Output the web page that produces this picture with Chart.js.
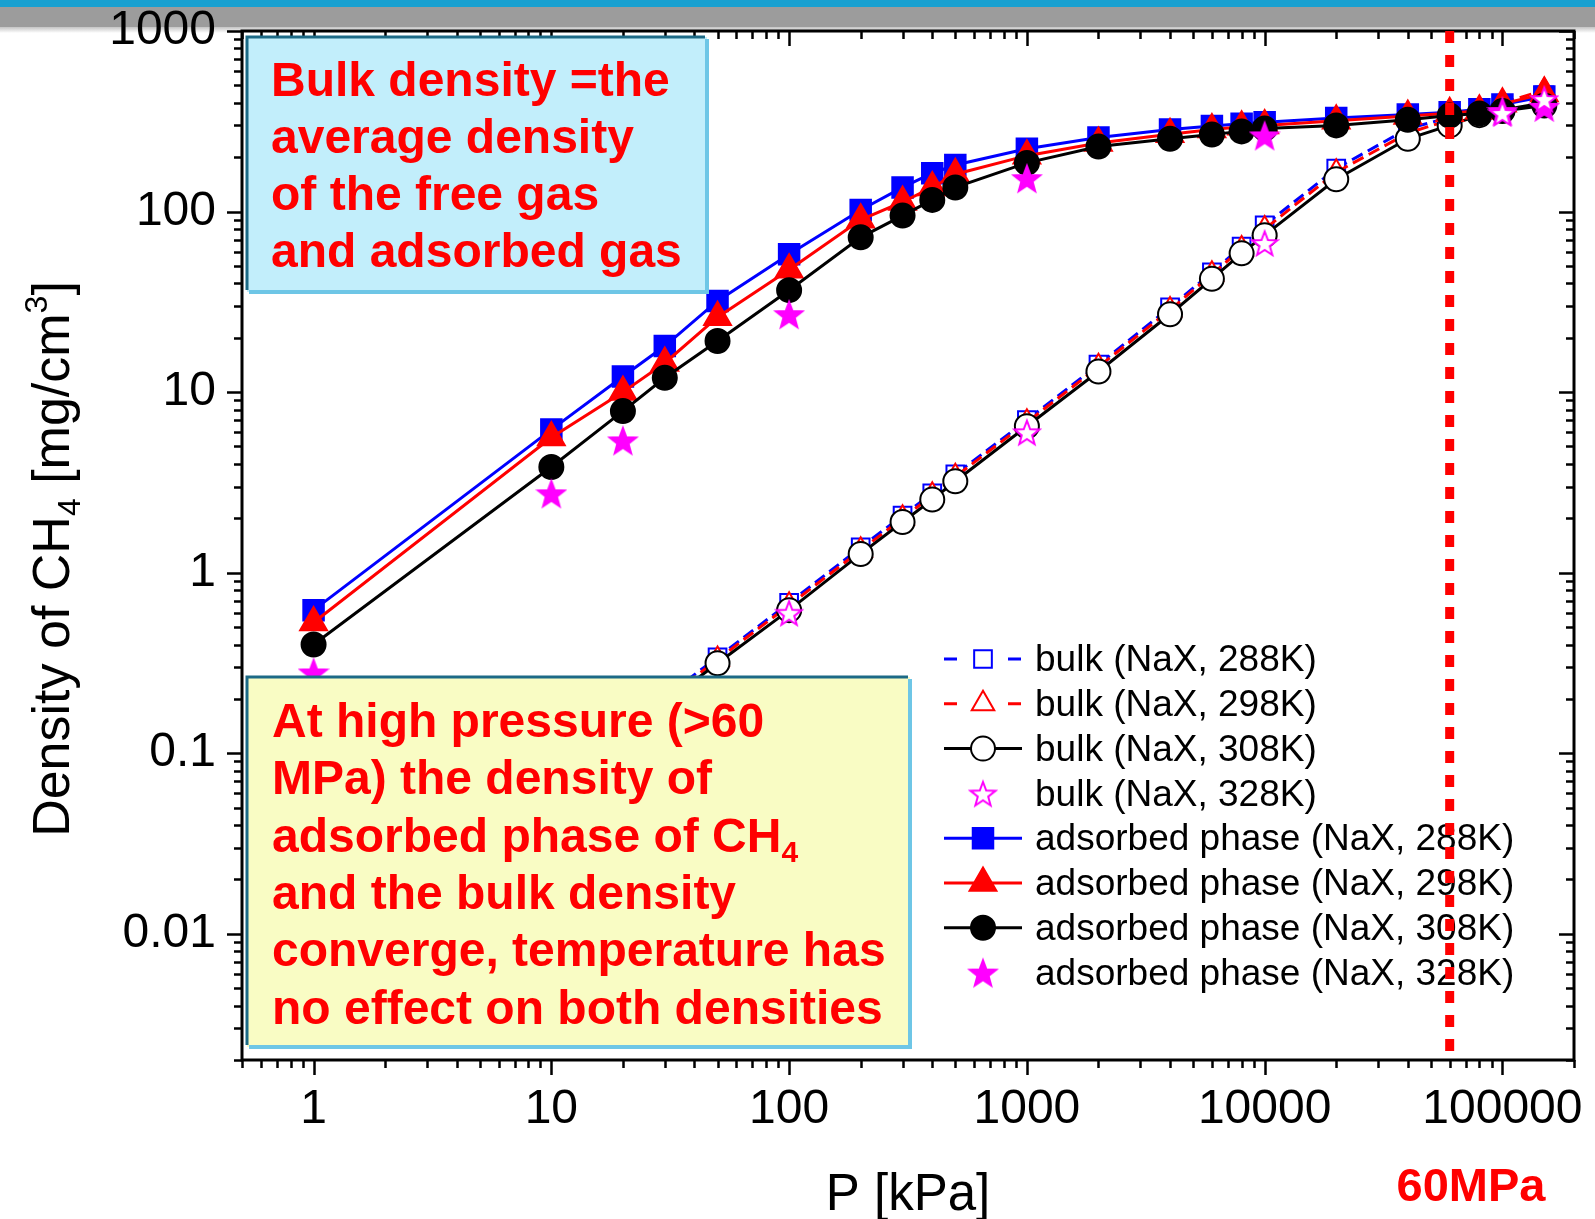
<!DOCTYPE html>
<html>
<head>
<meta charset="utf-8">
<script src="https://cdn.jsdelivr.net/npm/chart.js@4.4.1/dist/chart.umd.min.js"></script>
<style>
  html, body { margin: 0; padding: 0; background: #fff; }
  canvas { display: block; }
</style>
</head>
<body>
<canvas id="densityChart" width="1595" height="1219"></canvas>
<script>
// pressure points in kPa
const pressure = [1, 10, 20, 30, 50, 100, 200, 300, 400, 500, 1000, 2000, 4000, 6000, 8000, 10000, 20000, 40000, 60000, 80000, 100000, 150000];
const pressureAds328 = [1, 10, 20, 100, 1000, 10000, 100000, 150000];
const pressureBulk328 = [100, 1000, 10000, 100000, 150000];

// bulk density, mg/cm3
const bulk288 = [0.0068, 0.068, 0.136, 0.205, 0.34, 0.68, 1.38, 2.07, 2.75, 3.5, 7.0, 14.2, 29.5, 46, 64, 84, 173, 288, 332, 365, 395, 440];
const bulk298 = [0.0066, 0.066, 0.132, 0.198, 0.33, 0.66, 1.33, 2.0, 2.68, 3.4, 6.8, 13.8, 28.5, 45, 62, 80, 165, 272, 322, 360, 400, 470];
const bulk308 = [0.0063, 0.063, 0.126, 0.19, 0.315, 0.62, 1.27, 1.91, 2.54, 3.21, 6.47, 13, 27, 42.4, 58.7, 74, 151, 253, 300, 342, 365, 400];
const bulk328 = [0.6, 6.0, 67, 352, 420];

// adsorbed phase density, mg/cm3
const ads288 = [0.62, 6.2, 12.2, 18, 32, 58, 102, 136, 163, 181, 223, 257, 285, 298, 306, 312, 330, 345, 355, 369, 392, 434];
const ads298 = [0.53, 5.6, 10, 14.5, 26, 47.6, 90, 113, 136, 161, 204, 240, 268, 285, 295, 300, 318, 338, 350, 362, 395, 450];
const ads308 = [0.40, 3.85, 7.85, 12, 19.2, 36.7, 72, 95, 116, 136, 186, 229, 253, 267, 278, 288, 300, 322, 340, 349, 360, 387];
const ads328 = [0.28, 2.75, 5.4, 27, 153, 264, 360, 380];

const xTickValues = [1, 10, 100, 1000, 10000, 100000];
const xTickLabels = ['1', '10', '100', '1000', '10000', '100000'];
const yTickValues = [0.01, 0.1, 1, 10, 100, 1000];
const yTickLabels = ['0.01', '0.1', '1', '10', '100', '1000'];
const limitPressure = 60000;

const FONT = "'Liberation Sans', Arial, sans-serif";

function pts(xs, ys) {
    return xs.map((x, i) => ({ x: x, y: ys[i] }));
}

function makeStar(filled, size) {
    let c = document.createElement('canvas');
    c.width = size; c.height = size;
    let ctx = c.getContext('2d');
    let cx = size / 2, cy = size / 2 + 1.5, R = size / 2 - 2, r = R * 0.42;
    ctx.beginPath();
    for (let i = 0; i < 10; i++) {
        let rad = i % 2 ? r : R;
        let a = -Math.PI / 2 + i * Math.PI / 5;
        ctx.lineTo(cx + rad * Math.cos(a), cy + rad * Math.sin(a));
    }
    ctx.closePath();
    ctx.fillStyle = filled ? '#ff00ff' : '#ffffff';
    ctx.fill();
    ctx.lineWidth = 2;
    ctx.strokeStyle = '#ff00ff';
    ctx.stroke();
    return c;
}

const starFilled = makeStar(true, 32);
const starOpen = makeStar(false, 30);

function series(label, xs, ys, color, style, radius, filled, dash, line, order) {
    return {
        label: label,
        data: pts(xs, ys),
        showLine: line,
        borderColor: color,
        borderWidth: 3,
        borderDash: dash,
        pointStyle: style,
        pointRadius: radius,
        pointHoverRadius: radius,
        pointBorderWidth: 2,
        pointBorderColor: color,
        pointBackgroundColor: filled ? color : '#ffffff',
        order: order,
        dashed: dash.length > 0
    };
}

const datasets = [
    series('bulk (NaX, 288K)', pressure, bulk288, '#0000ff', 'rect', 12.5, false, [12, 6], true, 7),
    series('bulk (NaX, 298K)', pressure, bulk298, '#ff0000', 'triangle', 13, false, [12, 6], true, 6),
    series('bulk (NaX, 308K)', pressure, bulk308, '#000000', 'circle', 12, false, [], true, 5),
    series('bulk (NaX, 328K)', pressureBulk328, bulk328, '#ff00ff', starOpen, 14, false, [], false, 0),
    series('adsorbed phase (NaX, 288K)', pressure, ads288, '#0000ff', 'rect', 14.5, true, [], true, 4),
    series('adsorbed phase (NaX, 298K)', pressure, ads298, '#ff0000', 'triangle', 15.5, true, [], true, 3),
    series('adsorbed phase (NaX, 308K)', pressure, ads308, '#000000', 'circle', 12, true, [], true, 2),
    series('adsorbed phase (NaX, 328K)', pressureAds328, ads328, '#ff00ff', starFilled, 15, true, [], false, 1)
];

function drawMarker(ctx, ds, x, y) {
    let r = ds.pointRadius;
    ctx.save();
    ctx.lineWidth = ds.pointBorderWidth;
    ctx.strokeStyle = ds.pointBorderColor;
    ctx.fillStyle = ds.pointBackgroundColor;
    ctx.setLineDash([]);
    if (ds.pointStyle instanceof HTMLCanvasElement) {
        ctx.drawImage(ds.pointStyle, x - ds.pointStyle.width / 2, y - ds.pointStyle.height / 2);
        ctx.restore();
        return;
    }
    ctx.beginPath();
    if (ds.pointStyle === 'rect') {
        let s = r * Math.SQRT1_2;
        ctx.rect(x - s, y - s, 2 * s, 2 * s);
    } else if (ds.pointStyle === 'triangle') {
        let a = 0;
        ctx.moveTo(x + Math.sin(a) * r, y - Math.cos(a) * r);
        a += 2 * Math.PI / 3;
        ctx.lineTo(x + Math.sin(a) * r, y - Math.cos(a) * r);
        a += 2 * Math.PI / 3;
        ctx.lineTo(x + Math.sin(a) * r, y - Math.cos(a) * r);
        ctx.closePath();
    } else {
        ctx.arc(x, y, r, 0, Math.PI * 2);
    }
    ctx.fill();
    ctx.stroke();
    ctx.restore();
}

// text with a sub- or superscript piece: parts = [[text, 'n'|'sub'|'sup'], ...]
function richText(ctx, parts, x, y, size, weight) {
    let cx = x;
    parts.forEach(p => {
        let small = p[1] !== 'n';
        ctx.font = weight + ' ' + (small ? Math.round(size * 0.62) : size) + 'px ' + FONT;
        let dy = p[1] === 'sub' ? size * 0.22 : (p[1] === 'sup' ? -size * 0.42 : 0);
        ctx.fillText(p[0], cx, y + dy);
        cx += ctx.measureText(p[0]).width;
    });
    return cx - x;
}

function richWidth(ctx, parts, size, weight) {
    let w = 0;
    parts.forEach(p => {
        let small = p[1] !== 'n';
        ctx.font = weight + ' ' + (small ? Math.round(size * 0.62) : size) + 'px ' + FONT;
        w += ctx.measureText(p[0]).width;
    });
    return w;
}

function noteBox(ctx, x1, y1, x2, y2, fill) {
    ctx.save();
    ctx.fillStyle = fill;
    ctx.fillRect(x1, y1, x2 - x1, y2 - y1);
    ctx.strokeStyle = '#6ec6e6';
    ctx.lineWidth = 4;
    ctx.beginPath();
    ctx.moveTo(x2, y1 + 2);
    ctx.lineTo(x2, y2);
    ctx.lineTo(x1 + 2, y2);
    ctx.stroke();
    ctx.strokeStyle = '#1c6a86';
    ctx.lineWidth = 3;
    ctx.beginPath();
    ctx.moveTo(x1, y2 - 2);
    ctx.lineTo(x1, y1);
    ctx.lineTo(x2 - 2, y1);
    ctx.stroke();
    ctx.restore();
}

function logMarks(min, max) {
    let out = [];
    for (let e = Math.floor(Math.log10(min)); e <= Math.ceil(Math.log10(max)); e++) {
        for (let m = 1; m < 10; m++) {
            let v = m * Math.pow(10, e);
            if (v >= min * 0.999 && v <= max * 1.001) out.push({ v: v, major: m === 1 });
        }
    }
    return out;
}

function noScalePadding(s) {
    s.paddingLeft = 0; s.paddingRight = 0; s.paddingTop = 0; s.paddingBottom = 0;
}

const decorPlugin = {
    id: 'decor',
    beforeDraw(chart) {
        let ctx = chart.ctx;
        ctx.save();
        ctx.fillStyle = '#ffffff';
        ctx.fillRect(0, 0, chart.width, chart.height);
        ctx.fillStyle = '#18a0d0';
        ctx.fillRect(0, 0, chart.width, 7);
        ctx.fillStyle = '#9c9c9c';
        ctx.fillRect(0, 7, chart.width, 20);
        let g = ctx.createLinearGradient(0, 27, 0, 33);
        g.addColorStop(0, '#c4c4c4');
        g.addColorStop(1, '#ffffff');
        ctx.fillStyle = g;
        ctx.fillRect(0, 27, chart.width, 6);
        ctx.restore();
    },
    afterDatasetsDraw(chart) {
        let ctx = chart.ctx;
        let a = chart.chartArea;
        let xs = chart.scales.x, ys = chart.scales.y;
        ctx.save();

        // frame and tick marks
        ctx.strokeStyle = '#000';
        ctx.lineWidth = 3;
        ctx.strokeRect(a.left, a.top, a.right - a.left, a.bottom - a.top);
        ctx.lineWidth = 2.5;
        ctx.beginPath();
        logMarks(xs.min, xs.max).forEach(t => {
            let px = Math.round(xs.getPixelForValue(t.v)) + 0.5;
            let len = t.major ? 15 : 8;
            ctx.moveTo(px, a.bottom); ctx.lineTo(px, a.bottom + len);
            ctx.moveTo(px, a.top); ctx.lineTo(px, a.top + len);
        });
        logMarks(ys.min, ys.max).forEach(t => {
            let py = Math.round(ys.getPixelForValue(t.v)) + 0.5;
            let len = t.major ? 15 : 8;
            ctx.moveTo(a.left, py); ctx.lineTo(a.left - len, py);
            ctx.moveTo(a.right, py); ctx.lineTo(a.right - len, py);
        });
        ctx.stroke();

        // note boxes
        noteBox(ctx, 247, 37, 707, 292, '#c2eefb');
        noteBox(ctx, 247, 677, 910, 1047, '#f9fcc4');
        ctx.fillStyle = '#ff0000';
        ctx.textBaseline = 'alphabetic';
        ctx.textAlign = 'left';
        ctx.font = 'bold 48px ' + FONT;
        ['Bulk density =the', 'average density', 'of the free gas', 'and adsorbed gas'].forEach((s, i) => {
            ctx.fillText(s, 271, 96 + i * 57);
        });
        let note2 = [
            [['At high pressure (>60', 'n']],
            [['MPa) the density of', 'n']],
            [['adsorbed phase of CH', 'n'], ['4', 'sub']],
            [['and the bulk density', 'n']],
            [['converge, temperature has', 'n']],
            [['no effect on both densities', 'n']]
        ];
        note2.forEach((parts, i) => {
            richText(ctx, parts, 272, 737 + i * 57.3, 48, 'bold');
        });

        // legend
        let order = [0, 1, 2, 3, 4, 5, 6, 7];
        order.forEach((di, row) => {
            let ds = chart.data.datasets[di];
            let y = 659 + row * 44.8;
            ctx.lineWidth = 3;
            ctx.strokeStyle = ds.borderColor;
            ctx.setLineDash([]);
            if (ds.showLine) {
                ctx.beginPath();
                if (ds.dashed) {
                    ctx.moveTo(944, y); ctx.lineTo(957, y);
                    ctx.moveTo(1008, y); ctx.lineTo(1021, y);
                } else {
                    ctx.moveTo(944, y); ctx.lineTo(1022, y);
                }
                ctx.stroke();
            }
            drawMarker(ctx, ds, 983, y);
            ctx.fillStyle = '#000';
            ctx.font = '37px ' + FONT;
            ctx.textBaseline = 'middle';
            ctx.fillText(ds.label, 1035, y + 2);
        });

        // 60 MPa marker line
        let lx = xs.getPixelForValue(limitPressure);
        ctx.strokeStyle = '#ff0000';
        ctx.lineWidth = 9;
        ctx.setLineDash([12, 12]);
        ctx.beginPath();
        ctx.moveTo(lx, a.top);
        ctx.lineTo(lx, a.bottom);
        ctx.stroke();
        ctx.setLineDash([]);

        // axis titles
        ctx.fillStyle = '#000';
        ctx.textBaseline = 'alphabetic';
        ctx.textAlign = 'center';
        ctx.font = '51px ' + FONT;
        ctx.fillText('P [kPa]', 908, 1210);
        ctx.fillStyle = '#ff0000';
        ctx.font = 'bold 47px ' + FONT;
        ctx.fillText('60MPa', 1471, 1201);

        ctx.fillStyle = '#000';
        ctx.textAlign = 'left';
        let title = [['Density of CH', 'n'], ['4', 'sub'], [' [mg/cm', 'n'], ['3', 'sup'], [']', 'n']];
        let tw = richWidth(ctx, title, 52, 'normal');
        ctx.translate(69, 559);
        ctx.rotate(-Math.PI / 2);
        richText(ctx, title, -tw / 2, 0, 52, 'normal');
        ctx.restore();
    }
};

new Chart(document.getElementById('densityChart'), {
    type: 'scatter',
    data: { datasets: datasets },
    options: {
        responsive: false,
        animation: false,
        devicePixelRatio: 1,
        layout: { padding: { top: 31, right: 21, left: 0, bottom: 0 } },
        plugins: {
            legend: { display: false },
            tooltip: { enabled: false }
        },
        elements: { line: { tension: 0 } },
        scales: {
            x: {
                type: 'logarithmic',
                position: 'bottom',
                min: 0.5,
                max: 200000,
                afterBuildTicks: s => { s.ticks = xTickValues.map(v => ({ value: v })); },
                afterFit: s => { s.height = 159; noScalePadding(s); },
                grid: { display: false, drawTicks: false },
                border: { display: false },
                ticks: {
                    autoSkip: false,
                    maxRotation: 0,
                    padding: 21,
                    color: '#000',
                    font: { family: FONT, size: 48 },
                    callback: (v, i) => xTickLabels[i]
                }
            },
            y: {
                type: 'logarithmic',
                min: 0.002,
                max: 1000,
                afterBuildTicks: s => { s.ticks = yTickValues.map(v => ({ value: v })); },
                afterFit: s => { s.width = 242; noScalePadding(s); },
                grid: { display: false, drawTicks: false },
                border: { display: false },
                ticks: {
                    autoSkip: false,
                    padding: 26,
                    color: '#000',
                    font: { family: FONT, size: 48 },
                    callback: (v, i) => yTickLabels[i]
                }
            }
        }
    },
    plugins: [decorPlugin]
});
</script>
</body>
</html>
